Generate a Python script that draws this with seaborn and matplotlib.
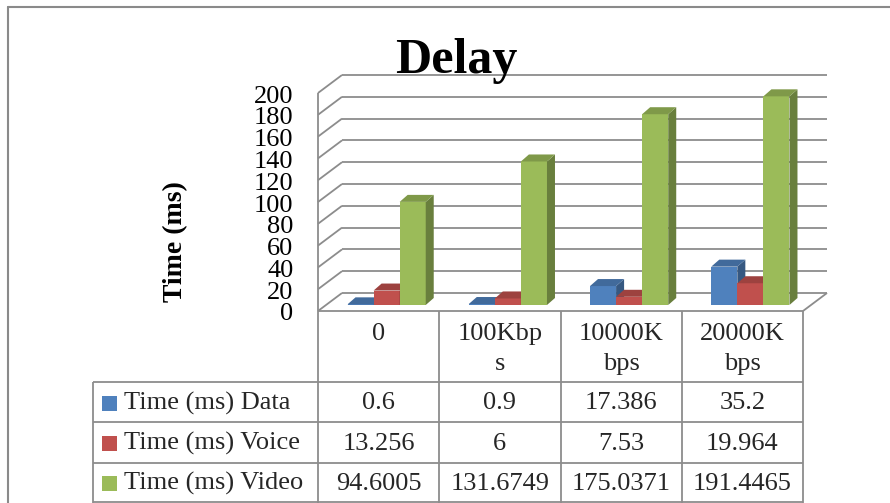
import matplotlib
matplotlib.use('Agg')
import matplotlib.pyplot as plt
import matplotlib.transforms as mtransforms
from matplotlib.patches import Polygon, Rectangle
import seaborn as sns
import pandas as pd

# --- datos ---
categories = ["0", "100Kbps", "10000Kbps", "20000Kbps"]
header_labels = ["0", "100Kbp\ns", "10000K\nbps", "20000K\nbps"]
series_names = ["Time (ms) Data", "Time (ms) Voice", "Time (ms) Video"]
data_ms = [0.6, 0.9, 17.386, 35.2]
voice_ms = [13.256, 6, 7.53, 19.964]
video_ms = [94.6005, 131.6749, 175.0371, 191.4465]
colors = ["#4F81BD", "#C0504D", "#9BBB59"]
y_ticks = list(range(0, 201, 20))

series_values = [data_ms, voice_ms, video_ms]
df = pd.DataFrame({
    'cat': categories * 3,
    'series': [s for s in series_names for _ in categories],
    'value': data_ms + voice_ms + video_ms,
})

sns.set_theme(style='white')
plt.rcParams['font.family'] = ['Liberation Serif', 'DejaVu Serif']

W, H = 890, 503
GRID = '#8c8c8c'
FS = 19

fig = plt.figure(figsize=(W / 100, H / 100), dpi=100)
fig.patch.set_facecolor('white')

# capa en pixeles para la tabla y el borde
fx = fig.add_axes([0, 0, 1, 1])
fx.set_xlim(0, W)
fx.set_ylim(H, 0)
fx.axis('off')

# plano de las barras (profundidad media)
ax = fig.add_axes([326 / W, (H - 305) / H, 485 / W, 218 / H])
sns.barplot(data=df, x='cat', y='value', hue='series', palette=colors,
            width=0.645, saturation=1, linewidth=0, legend=False,
            errorbar=None, ax=ax)
ax.set_xlim(-0.5, 3.5)
ax.set_ylim(0, 200)
ax.patch.set_visible(False)
for s in ax.spines.values():
    s.set_visible(False)
ax.set_xticks([])
ax.set_xlabel('')
ax.set_yticks(y_ticks)
ax.tick_params(axis='y', length=0, pad=23.5, labelsize=FS, labelcolor='black')
for lbl in ax.get_yticklabels():
    lbl.set_transform(lbl.get_transform() +
                      mtransforms.ScaledTranslation(0, -0.07, fig.dpi_scale_trans))

ax.set_ylabel('Time (ms)', fontsize=20, fontweight='bold', color='black')
ax.yaxis.set_label_coords((176 - 326) / 485, (305 - 242) / 218)
ax.yaxis.label.set_verticalalignment('center')

ax.set_title('Delay', fontsize=36, fontweight='bold', color='black',
             x=(456 - 326) / 485, y=(305 - 73) / 218, pad=0)

# escala pixel -> datos
p0 = ax.transData.transform((0, 0))
p1 = ax.transData.transform((1, 100))
sx = p1[0] - p0[0]
sy = (p1[1] - p0[1]) / 100

# desplazamientos 3D en pixeles
front = (-8 / sx, -6 / sy)
back = (16 / sx, 12 / sy)
bdx, bdy = 8 / sx, 7 / sy

def line(xs, ys, **kw):
    ax.plot(xs, ys, color=GRID, lw=1.3, clip_on=False, zorder=0.5,
            solid_capstyle='butt', **kw)

# paredes
for v in y_ticks:
    line([-0.5 + back[0], 3.5 + back[0]], [v + back[1], v + back[1]])
    line([-0.5 + front[0], -0.5 + back[0]], [v + front[1], v + back[1]])
line([-0.5 + front[0], -0.5 + front[0]], [front[1], 200 + front[1]])
line([3.5 + front[0], 3.5 + back[0]], [front[1], back[1]])


def darker(c, f):
    return tuple(min(1, ch * f) for ch in c[:3])


# caras laterales y superiores
n = len(categories)
for i, p in enumerate(ax.patches):
    hue = i // n
    base = 2 + hue
    p.set_zorder(base)
    x0, w, h = p.get_x(), p.get_width(), p.get_height()
    c = p.get_facecolor()
    side = Polygon([(x0 + w, 0), (x0 + w + bdx, bdy), (x0 + w + bdx, h + bdy), (x0 + w, h)],
                   closed=True, facecolor=darker(c, 0.68), lw=0, zorder=base + 0.1, clip_on=False)
    top = Polygon([(x0, h), (x0 + w, h), (x0 + w + bdx, h + bdy), (x0 + bdx, h + bdy)],
                  closed=True, facecolor=darker(c, 0.82), lw=0, zorder=base + 0.2, clip_on=False)
    ax.add_patch(side)
    ax.add_patch(top)

# --- tabla de datos ---
col_x = []
for k in range(n + 1):
    d = ax.transData.transform((-0.5 + k + front[0], front[1]))
    col_x.append(d[0])
table_top = H - ax.transData.transform((0, front[1]))[1]
legend_left = 93
row_y = [382, 422, 463, 502]

kw = dict(color=GRID, lw=1.3, solid_capstyle='butt')
fx.plot([col_x[0], col_x[-1]], [table_top, table_top], **kw)
for y in row_y:
    fx.plot([legend_left, col_x[-1]], [y, y], **kw)
for x in col_x:
    fx.plot([x, x], [table_top, H], **kw)
fx.plot([legend_left, legend_left], [row_y[0], H], **kw)

for k, lab in enumerate(header_labels):
    cx = (col_x[k] + col_x[k + 1]) / 2
    fx.text(cx, 323, lab, ha='center', va='top', fontsize=FS, linespacing=1.45)

for r, (name, vals, col) in enumerate(zip(series_names, series_values, colors)):
    cy = (row_y[r] + row_y[r + 1]) / 2 + 1
    fx.add_patch(Rectangle((102, cy - 7.5), 15, 15, facecolor=col, lw=0))
    fx.text(124, cy, name, ha='left', va='center', fontsize=FS)
    for k, v in enumerate(vals):
        cx = (col_x[k] + col_x[k + 1]) / 2
        fx.text(cx, cy, '{:.10g}'.format(v), ha='center', va='center', fontsize=FS)

# borde del grafico
fx.plot([8, 8], [H, 7], color='#8a8a8a', lw=1.5)
fx.plot([8, W], [7, 7], color='#8a8a8a', lw=1.5)

fig.savefig('out.png', dpi=100)
